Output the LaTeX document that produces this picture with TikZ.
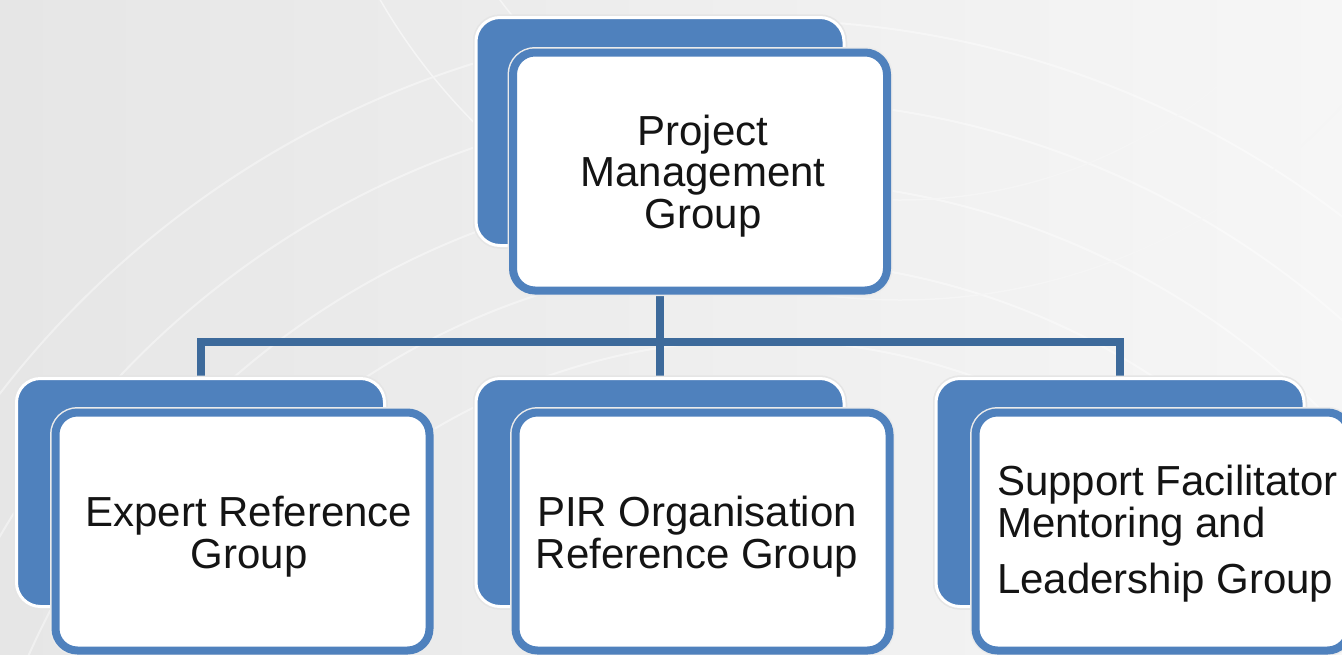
\documentclass[tikz,border=0pt]{standalone}
\usepackage{fontspec}
\setmainfont{Liberation Sans}
\definecolor{boxblue}{HTML}{4F81BD}
\definecolor{connblue}{HTML}{3D6A9B}
\definecolor{bgleft}{HTML}{E6E6E6}
\definecolor{bgright}{HTML}{F6F6F6}
\begin{document}
\begin{tikzpicture}[x=1pt,y=-1pt,
  backbox/.style={fill=boxblue, draw=white, line width=3pt, rounded corners=24pt,
    minimum width=368pt, minimum height=228pt, inner sep=0pt, outer sep=0pt,
    preaction={draw=black!10, line width=6pt}},
  frontbox/.style={fill=white, draw=boxblue, line width=8pt, rounded corners=22pt,
    minimum width=374pt, minimum height=238pt, inner sep=0pt, outer sep=0pt,
    preaction={draw=black!8, line width=11pt}},
  conn/.style={draw=connblue, line width=8pt},
  txt/.style={font=\fontsize{42}{41.5}\selectfont, text=black!92, inner sep=0pt},
]
\useasboundingbox (0,0) rectangle (1342,654);
% background
\fill[left color=bgleft, right color=bgright] (0,0) rectangle (1342,654);
\begin{scope}
\clip (0,0) rectangle (1342,654);
\foreach \r in {640,720,800,880,960}
  \draw[white, line width=2pt, opacity=0.4] (760,980) circle (\r);
\foreach \r in {500,600}
  \draw[black!4, line width=1.5pt] (900,-300) circle (\r);
\end{scope}

% back boxes
\node[backbox] (pmgback) at (660,131.5) {};
\node[backbox] (ergback) at (200.5,492.5) {};
\node[backbox] (pirback) at (660,492.5) {};
\node[backbox] (sfmback) at (1120,492.5) {};

% connectors
\coordinate (bar) at (660,342);
\draw[conn] (pmgback.south) -- (pirback.north);
\draw[conn] (ergback.north) |- (bar) -| (sfmback.north);

% redraw back boxes over connector ends
\node[backbox] at (pmgback) {};
\node[backbox] at (ergback) {};
\node[backbox] at (pirback) {};
\node[backbox] at (sfmback) {};

% front boxes
\node[frontbox] (pmg) at (700,171.5) {};
\node[frontbox] (erg) at (242.5,531.5) {};
\node[frontbox] (pir) at (702.5,531.5) {};
\node[frontbox] (sfm) at (1162.5,531.5) {};

% texts (base = baseline of the last line)
\node[txt, align=center, anchor=base] (pmgt) at (703,228) {Project\\Management\\Group};
\node[txt, align=center, anchor=base] (ergt) at (249,568) {Expert Reference\\Group};
\node[txt, align=center, anchor=base] (pirt) at (697,568) {PIR Organisation\\Reference Group};
\node[txt, align=left, anchor=base west] (sfmt1) at (997,537) {Support Facilitator\\Mentoring and};
\node[txt, anchor=base west] (sfmt2) at (997,593) {Leadership Group};
\end{tikzpicture}
\end{document}
